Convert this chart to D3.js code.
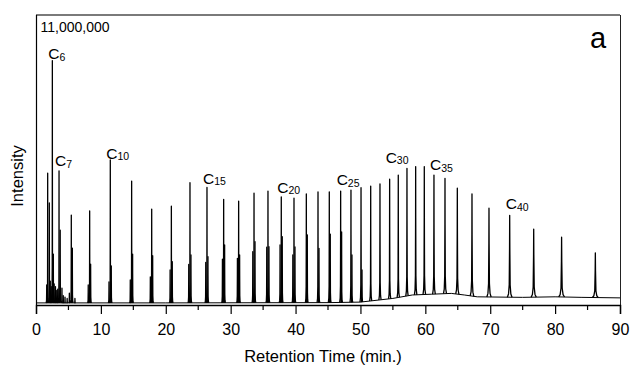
<!DOCTYPE html>
<html>
<head>
<meta charset="utf-8">
<script src="https://cdn.jsdelivr.net/npm/d3@7"></script>
<style>
  html, body { margin: 0; padding: 0; background: #fff; }
  svg { display: block; font-family: "Liberation Sans", Arial, Helvetica, sans-serif; }
</style>
</head>
<body>
<svg id="chart" width="630" height="365"></svg>
<script>
// n-alkane peaks: retention time (min), apex intensity (millions of counts), half base width (min)
const retentionTimes = [1.80, 2.52, 3.55, 5.44, 8.27, 11.45, 14.74, 17.83, 20.86, 23.73,
  26.35, 28.92, 31.23, 33.60, 35.75, 37.80, 39.76, 41.66, 43.46, 45.20,
  46.95, 48.54, 50.09, 51.58, 53.01, 54.50, 55.83, 57.17, 58.51, 59.84,
  61.33, 63.03, 64.93, 67.19, 69.81, 73.00, 76.70, 81.00, 86.20];
const peakHeightsM = [5.00, 9.27, 5.09, 3.41, 3.57, 5.50, 4.70, 3.64, 3.75, 4.64,
  4.46, 4.01, 3.94, 4.24, 4.32, 4.10, 4.05, 4.21, 4.29, 4.29,
  4.32, 4.36, 4.45, 4.51, 4.59, 4.77, 4.93, 5.18, 5.25, 5.25,
  4.93, 4.80, 4.43, 4.21, 3.67, 3.40, 2.88, 2.57, 1.98];
const peakHalfWidths = [0.10, 0.10, 0.10, 0.12, 0.12, 0.12, 0.12, 0.12, 0.12, 0.12,
  0.12, 0.13, 0.13, 0.13, 0.13, 0.14, 0.14, 0.14, 0.14, 0.15,
  0.15, 0.15, 0.16, 0.16, 0.17, 0.17, 0.18, 0.18, 0.19, 0.20,
  0.21, 0.23, 0.25, 0.28, 0.33, 0.36, 0.40, 0.45, 0.45];

// branched / unsaturated companions eluting beside the main peaks
const minorTimes = [1.65, 2.05, 2.20, 2.35, 2.67, 2.80, 3.00, 3.20, 3.35, 3.73,
  4.00, 4.20, 4.47, 4.80, 5.14, 5.60, 6.00, 8.05, 8.42, 11.25,
  11.60, 14.53, 14.89, 17.62, 17.98, 20.67, 21.00, 23.54, 23.88, 26.16,
  26.50, 28.73, 29.07, 31.04, 31.38, 33.41, 33.75, 35.56, 35.90, 37.61,
  37.95, 39.58, 39.91, 41.81, 43.61, 45.35, 47.10, 48.69, 50.24];
const minorHeightsM = [0.76, 3.87, 0.90, 0.70, 1.93, 0.80, 0.70, 0.55, 0.60, 2.84,
  0.64, 0.35, 0.30, 0.25, 0.45, 2.16, 0.25, 0.76, 1.55, 0.88,
  1.48, 0.95, 1.93, 1.07, 1.87, 1.33, 1.64, 1.54, 1.90, 1.62,
  1.83, 1.74, 2.28, 1.77, 1.90, 2.02, 2.40, 2.19, 2.21, 2.28,
  2.59, 1.90, 2.20, 2.66, 2.15, 2.69, 2.77, 1.90, 1.33];

// baseline drift of the trace
const baselineTimes = [0, 20, 45, 50, 55, 58, 61, 64, 66, 68, 75, 80, 84, 90];
const baselineM = [0.08, 0.08, 0.09, 0.11, 0.25, 0.38, 0.41, 0.44, 0.38, 0.31, 0.29, 0.31, 0.29, 0.27];

// carbon-number annotations
const carbonNumbers = ["6", "7", "10", "15", "20", "25", "30", "35", "40"];
const labelTimes = [2.52, 3.55, 11.45, 26.35, 37.80, 46.95, 54.50, 61.33, 73.00];
const labelLevelsM = [9.33, 5.27, 5.54, 4.59, 4.25, 4.55, 5.39, 5.12, 3.64];

const xTickValues = [0, 10, 20, 30, 40, 50, 60, 70, 80, 90];
const xMinorTickValues = [5, 15, 25, 35, 45, 55, 65, 75, 85];
const fullScaleLabel = "11,000,000";
const fullScaleM = 11;

const svg = d3.select("#chart");
const plotLeft = 36, plotRight = 620, plotTop = 15, plotBottom = 305;

const x = d3.scaleLinear().domain([0, 90]).range([plotLeft, plotRight]);
const y = d3.scaleLinear().domain([0, fullScaleM]).range([plotBottom, plotTop]);
const base = d3.scaleLinear().domain(baselineTimes).range(baselineM).clamp(true);

const line = d3.line().x(d => x(d[0])).y(d => y(d[1]));

// peak profile: narrow apex, flared foot
const profOffsets = [-1, -0.5, -0.2, -0.06, 0, 0.06, 0.2, 0.5, 1];
const profFractions = [0, 0.04, 0.15, 0.6, 1, 0.6, 0.15, 0.04, 0];

function peakPoints(t, h, w) {
  const b = base(t);
  return profOffsets.map((o, i) => {
    const tt = t + o * w;
    const bb = base(tt);
    return [tt, bb + (h - b) * profFractions[i]];
  });
}

const traceG = svg.append("g").attr("fill", "none").attr("stroke", "#000")
  .attr("stroke-width", 1.3).attr("stroke-linejoin", "round");

// baseline
traceG.append("path")
  .attr("stroke-width", 1)
  .attr("d", line(baselineTimes.map((t, i) => [t, baselineM[i]])));

// minor peaks
traceG.selectAll("path.minor")
  .data(minorTimes.map((t, i) => peakPoints(t, minorHeightsM[i], 0.12)))
  .join("path")
  .attr("class", "minor")
  .attr("d", line);

// main peaks
traceG.selectAll("path.main")
  .data(retentionTimes.map((t, i) => peakPoints(t, peakHeightsM[i], peakHalfWidths[i])))
  .join("path")
  .attr("class", "main")
  .attr("d", line);

// frame
svg.append("line").attr("x1", plotLeft).attr("x2", plotRight).attr("y1", plotTop).attr("y2", plotTop)
  .attr("stroke", "#7a7a7a").attr("stroke-width", 2);
svg.append("line").attr("x1", plotRight + 0.5).attr("x2", plotRight + 0.5).attr("y1", plotTop).attr("y2", plotBottom)
  .attr("stroke", "#222").attr("stroke-width", 1);
svg.append("line").attr("x1", plotLeft + 0.5).attr("x2", plotLeft + 0.5).attr("y1", plotTop).attr("y2", plotBottom)
  .attr("stroke", "#000").attr("stroke-width", 1.2);

// x axis
const xAxis = svg.append("g").attr("transform", `translate(0,${plotBottom})`)
  .call(d3.axisBottom(x).tickValues(xTickValues).tickSize(9).tickPadding(10).tickFormat(d3.format("d")));
xAxis.select(".domain").attr("stroke", "#000").attr("stroke-width", 1.4);
xAxis.selectAll(".tick line").attr("stroke", "#000").attr("stroke-width", 1.2);
xAxis.selectAll(".tick text").attr("font-size", 16).attr("fill", "#000")
  .attr("font-family", "'Liberation Sans', Arial, sans-serif");

svg.append("g").selectAll("line").data(xMinorTickValues).join("line")
  .attr("x1", d => x(d)).attr("x2", d => x(d))
  .attr("y1", plotBottom).attr("y2", plotBottom + 5)
  .attr("stroke", "#000").attr("stroke-width", 1.2);

// axis titles
svg.append("text").attr("x", 323).attr("y", 362).attr("text-anchor", "middle")
  .attr("font-size", 16.5).text("Retention Time (min.)");
svg.append("text").attr("transform", "translate(23,176) rotate(-90)").attr("text-anchor", "middle")
  .attr("font-size", 16.5).text("Intensity");

// full-scale label and panel letter
svg.append("text").attr("x", 40.5).attr("y", 32.3).attr("font-size", 14).text(fullScaleLabel);
svg.append("text").attr("x", 590).attr("y", 48).attr("font-size", 29).text("a");

// carbon-number labels
const lab = svg.append("g").selectAll("text").data(carbonNumbers).join("text")
  .attr("x", (d, i) => x(labelTimes[i]) - 4)
  .attr("y", (d, i) => y(labelLevelsM[i]))
  .attr("font-size", 15.5);
lab.append("tspan").text("C");
lab.append("tspan").attr("font-size", 10.5).attr("dy", 1.5).text(d => d);
</script>
</body>
</html>
